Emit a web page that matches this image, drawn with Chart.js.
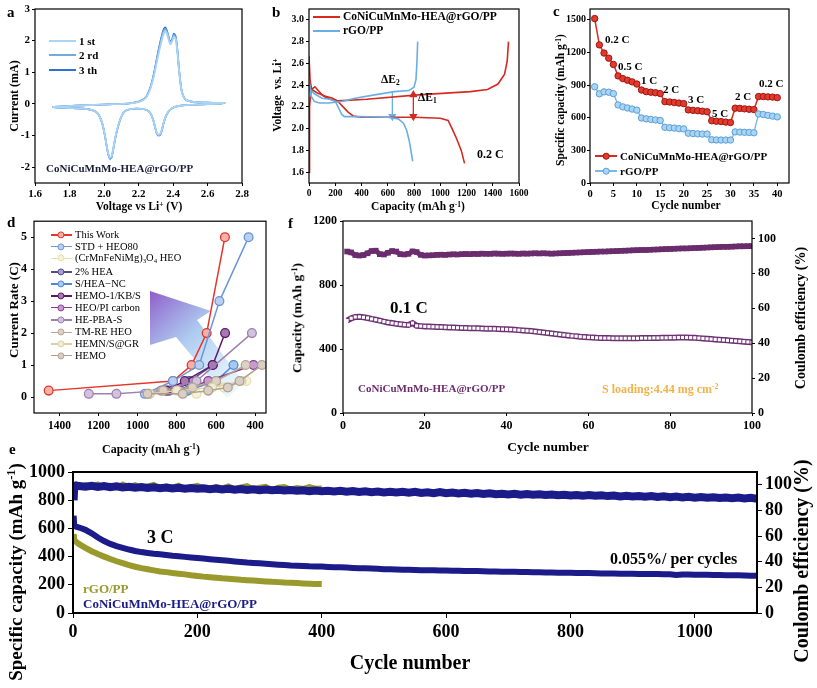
<!DOCTYPE html>
<html><head><meta charset="utf-8">
<script src="https://cdn.jsdelivr.net/npm/chart.js@4.4.1/dist/chart.umd.min.js"></script>
<style>
body{margin:0;background:#fff;width:817px;height:688px;position:relative;overflow:hidden;font-family:'Liberation Serif','Times New Roman',serif;font-weight:bold;color:#000}
canvas{position:absolute;display:block}
.t{position:absolute;white-space:nowrap;line-height:1;transform:translate(0,-50%)}
.c{transform:translate(-50%,-50%)}
.r{transform:translate(-50%,-50%) rotate(-90deg)}
sup{font-size:65%;vertical-align:0.5em;line-height:0}
sub{font-size:65%;vertical-align:-0.3em;line-height:0}
.sw{position:absolute;height:2px}
.dot{position:absolute;border-radius:50%;transform:translate(-50%,-50%)}
</style></head><body>
<svg id="arrow" width="817" height="688" style="position:absolute;left:0;top:0">
<defs><linearGradient id="ag" x1="150" y1="292" x2="238" y2="392" gradientUnits="userSpaceOnUse">
<stop offset="0" stop-color="#8a55c8" stop-opacity="0.95"/><stop offset="0.45" stop-color="#9fc3ee" stop-opacity="0.85"/><stop offset="1" stop-color="#dff2fb" stop-opacity="0.55"/></linearGradient></defs>
<polygon points="150,291 211,311 197,320 244,383 227,398 176,337 150,345" fill="url(#ag)"/>
</svg>
<canvas id="ca" width="265" height="215" style="left:0;top:0"></canvas>
<canvas id="cb" width="290" height="215" style="left:265px;top:0"></canvas>
<canvas id="cc" width="267" height="215" style="left:550px;top:0"></canvas>
<canvas id="cd" width="285" height="245" style="left:0;top:210px"></canvas>
<canvas id="cf" width="537" height="245" style="left:280px;top:210px"></canvas>
<canvas id="ce" width="817" height="248" style="left:0;top:440px"></canvas>
<script>
// ---------------- DATA ----------------
// Panel a: CV curves (voltage V, current mA), loop anodic then cathodic
const aVolt=[1.70,1.75,1.80,1.85,1.90,1.95,2.00,2.05,2.10,2.15,2.20,2.23,2.25,2.27,2.29,2.31,2.33,2.345,2.355,2.365,2.375,2.385,2.395,2.405,2.415,2.425,2.435,2.45,2.47,2.50,2.55,2.60,2.65,2.70,
 2.65,2.60,2.55,2.50,2.45,2.42,2.40,2.38,2.36,2.345,2.335,2.325,2.315,2.305,2.295,2.285,2.27,2.25,2.22,2.19,2.16,2.13,2.11,2.095,2.08,2.065,2.055,2.045,2.035,2.025,2.015,2.005,1.99,1.97,1.95,1.92,1.88,1.84,1.80,1.75,1.70];
const aCur1=[-0.10,-0.08,-0.06,-0.05,-0.04,-0.03,-0.02,-0.01,0.0,0.02,0.06,0.13,0.25,0.5,0.9,1.42,1.9,2.2,2.3,2.22,2.03,1.88,1.98,2.12,2.06,1.68,1.06,0.4,0.15,0.08,0.05,0.04,0.03,0.03,
 0.0,-0.01,-0.02,-0.03,-0.05,-0.08,-0.12,-0.19,-0.36,-0.6,-0.82,-0.95,-0.97,-0.9,-0.7,-0.49,-0.3,-0.2,-0.16,-0.15,-0.16,-0.2,-0.3,-0.47,-0.73,-1.07,-1.37,-1.64,-1.70,-1.57,-1.3,-0.98,-0.61,-0.35,-0.24,-0.18,-0.15,-0.14,-0.13,-0.12,-0.10];
const aCur2=[-0.10,-0.08,-0.06,-0.05,-0.04,-0.03,-0.02,-0.01,0.0,0.02,0.07,0.14,0.27,0.53,0.95,1.5,2.0,2.3,2.37,2.28,2.08,1.92,2.02,2.18,2.11,1.72,1.08,0.41,0.15,0.08,0.05,0.04,0.03,0.03,
 0.0,-0.01,-0.02,-0.03,-0.05,-0.08,-0.12,-0.2,-0.37,-0.61,-0.84,-0.97,-0.99,-0.91,-0.71,-0.5,-0.3,-0.2,-0.16,-0.15,-0.16,-0.2,-0.3,-0.48,-0.74,-1.09,-1.39,-1.67,-1.73,-1.59,-1.31,-0.99,-0.62,-0.35,-0.24,-0.18,-0.15,-0.14,-0.13,-0.12,-0.10];
const aCur3=[-0.10,-0.08,-0.06,-0.05,-0.04,-0.03,-0.02,-0.01,0.0,0.02,0.07,0.15,0.28,0.55,0.98,1.55,2.05,2.35,2.42,2.32,2.12,1.95,2.05,2.22,2.15,1.75,1.1,0.42,0.15,0.08,0.05,0.04,0.03,0.03,
 0.0,-0.01,-0.02,-0.03,-0.05,-0.08,-0.12,-0.2,-0.38,-0.62,-0.85,-0.98,-1.0,-0.92,-0.72,-0.5,-0.3,-0.2,-0.16,-0.15,-0.16,-0.2,-0.3,-0.48,-0.75,-1.1,-1.4,-1.68,-1.74,-1.6,-1.32,-1.0,-0.62,-0.35,-0.24,-0.18,-0.15,-0.14,-0.13,-0.12,-0.10];
const aXTicks=[1.6,1.8,2.0,2.2,2.4,2.6,2.8], aYTicks=[-2,-1,0,1,2,3];

// Panel b: galvanostatic profiles (capacity mAh/g, voltage V)
const bRedDisCap=[0,8,20,60,120,180,220,260,300,340,400,600,800,1000,1060,1090,1120,1160,1185];
const bRedDisV  =[2.67,2.45,2.36,2.33,2.30,2.28,2.25,2.20,2.15,2.115,2.105,2.105,2.105,2.095,2.075,2.0,1.92,1.8,1.68];
const bRedChCap=[0,4,15,30,45,70,110,160,220,440,830,1230,1360,1440,1490,1510,1520];
const bRedChV  =[1.6,2.2,2.34,2.37,2.385,2.35,2.30,2.27,2.255,2.27,2.31,2.34,2.36,2.41,2.5,2.62,2.8];
const bBlueDisCap=[0,10,40,100,160,200,225,250,270,400,600,680,720,745,765,790];
const bBlueDisV  =[2.45,2.36,2.32,2.28,2.27,2.25,2.19,2.13,2.11,2.11,2.105,2.09,2.05,1.98,1.88,1.7];
const bBlueChCap=[0,15,40,80,150,250,350,500,650,760,800,815,822,828];
const bBlueChV  =[2.4,2.3,2.25,2.235,2.235,2.25,2.28,2.31,2.34,2.35,2.38,2.45,2.6,2.8];
const bE1Cap=[795,795], bE1V=[2.112,2.31];
const bE2Cap=[635,635], bE2V=[2.34,2.112];
const bXTicks=[0,200,400,600,800,1000,1200,1400,1600], bYTicks=[1.6,1.8,2.0,2.2,2.4,2.6,2.8,3.0];

// Panel c: rate performance
const cCycle=[1,2,3,4,5,6,7,8,9,10,11,12,13,14,15,16,17,18,19,20,21,22,23,24,25,26,27,28,29,30,31,32,33,34,35,36,37,38,39,40];
const cHEA=[1512,1270,1195,1148,1090,985,960,945,930,910,855,840,835,830,822,748,745,740,735,730,672,668,665,660,655,572,568,565,560,556,688,686,682,678,675,795,795,792,790,785];
const cRGO=[885,820,838,835,822,718,700,690,680,670,598,590,585,580,575,512,508,505,500,498,458,455,452,450,450,398,396,395,395,395,470,468,466,465,462,635,630,622,615,608];
const cXTicks=[0,5,10,15,20,25,30,35,40], cYTicks=[0,300,600,900,1200,1500];

// Panel d: comparison (capacity mAh/g, current rate C)
const dNames=['This Work','STD + HEO80','(CrMnFeNiMg)<sub>3</sub>O<sub>4</sub> HEO','2% HEA',' S/HEA\u2212NC','HEMO-1/KB/S','HEO/PI carbon','HE-PBA-S','TM-RE HEO','HEMN/S@GR','HEMO'];
const dCap=[[1455,820,725,648,555],[964,820,686,583,434],[700,640,560,445],[840,735,617],[745,600,511],[855,760,617,554],[780,640,409],[1250,1109,880,700,417],[940,870,720,600,449],[940,800,620,470],[950,770,640,540,480,366]];
const dRate=[[0.2,0.5,1,2,5],[0.1,0.5,1,3,5],[0.1,0.2,0.3,0.5],[0.2,0.5,1],[0.2,0.5,1],[0.2,0.5,1,2],[0.2,0.5,1],[0.1,0.1,0.2,0.5,2],[0.1,0.2,0.3,0.5,1],[0.1,0.2,0.3,0.5],[0.1,0.1,0.2,0.3,0.5,1]];
const dXTicks=[1400,1200,1000,800,600,400], dYTicks=[0,1,2,3,4,5];

// Panel f: 0.1 C cycling
const fCycle=[1,2,3,4,5,6,7,8,9,10,11,12,13,14,15,16,17,18,19,20,21,22,23,24,25,26,27,28,29,30,31,32,33,34,35,36,37,38,39,40,41,42,43,44,45,46,47,48,49,50,51,52,53,54,55,56,57,58,59,60,61,62,63,64,65,66,67,68,69,70,71,72,73,74,75,76,77,78,79,80,81,82,83,84,85,86,87,88,89,90,91,92,93,94,95,96,97,98,99,100];
const fCap=[578,592,600,601,598,594,588,583,577,571,566,562,558,555,552,550,562,545,543,541,540,539,538,537,536,535,534,533,532,531,530,530,529,528,527,527,526,525,524,523,522,520,518,516,514,512,509,506,503,500,497,494,491,488,485,482,480,477,475,473,472,470,469,468,468,467,467,467,467,467,467,467,468,468,468,469,469,470,470,471,471,472,472,472,471,470,468,466,464,462,460,458,456,454,452,450,448,446,444,442];
const fCE=[92.5,92,90.5,90.2,90.5,91.5,92.8,93,91,90.8,91.8,92.8,92.5,91,90.8,91.2,92.6,92.2,90.6,90.2,90.3,90.4,90.6,90.7,90.6,90.8,90.9,90.8,91,91.1,91,91.2,91.1,91.3,91.2,91.2,91.4,91.3,91.2,91.3,91.4,91.3,91.2,91.4,91.3,91.4,91.5,91.4,91.5,91.4,91.3,91.4,91.5,91.6,91.7,91.8,91.9,92,92.1,92.2,92.3,92.4,92.5,92.5,92.6,92.7,92.8,92.9,93,93.1,93.2,93.3,93.4,93.4,93.5,93.6,93.7,93.8,93.9,94,94.1,94.2,94.3,94.3,94.4,94.5,94.6,94.7,94.8,94.9,95,95.1,95.2,95.2,95.3,95.4,95.5,95.5,95.6,95.6];
const fXTicks=[0,20,40,60,80,100], fYTicks=[0,400,800,1200], fY2Ticks=[0,20,40,60,80,100];

// Panel e: 3 C long cycling
const eNavyCycle=[1,2,5,10,20,30,40,50,60,70,80,90,100,110,120,130,140,150,160,170,180,190,200,210,220,230,240,250,260,270,280,290,300,310,320,330,340,350,360,370,380,390,400,410,420,430,440,450,460,470,480,490,500,510,520,530,540,550,560,570,580,590,600,610,620,630,640,650,660,670,680,690,700,710,720,730,740,750,760,770,780,790,800,810,820,830,840,850,860,870,880,890,900,910,920,930,940,950,960,970,980,990,1000,1010,1020,1030,1040,1050,1060,1070,1080,1090,1100];
const eNavyCap=[690,620,612,606,590,565,535,510,490,474,462,450,440,432,426,420,416,411,406,402,398,394,390,386,382,378,374,370,366,362,358,355,352,349,346,343,340,337,335,333,331,330,329,327,325,324,322,320,318,317,315,313,311,310,309,307,306,305,304,303,303,302,301,300,299,298,297,297,296,295,294,293,293,292,291,290,289,289,288,287,286,285,285,284,283,283,282,281,281,280,279,279,278,277,277,276,276,275,274,270,273,273,272,271,271,270,269,268,268,267,266,265,265];
const eNavyCE=[88,99,99.5,99,98.6,99.2,98.4,99,98.2,98.8,98,98.5,97.8,98.3,97.6,98.1,97.4,97.9,97.2,97.7,97,97.5,96.9,97.3,96.6,97.1,96.4,96.9,96.2,96.7,96,96.5,95.8,96.3,95.7,96.1,95.5,95.9,95.3,95.8,95.1,95.6,95,95.4,94.8,95.3,94.6,95.1,94.4,94.9,94.3,94.8,94.1,94.6,94,94.5,93.8,94.6,93.7,94.2,93.5,94.4,93.4,93.9,93.2,93.7,93,93.6,92.9,93.4,92.7,93.1,92.5,93,92.3,92.8,92.2,92.6,92,92.5,91.8,92.3,91.7,92.1,91.5,92,91.4,91.8,91.2,91.7,91,91.5,90.9,91.3,90.7,91.2,90.5,91,90.4,90.8,90.2,90.7,90,90.5,89.9,90.3,89.7,90.1,89.5,90,89.3,89.8,89.2];
const eOliveCycle=[1,2,5,10,20,30,40,50,60,70,80,90,100,110,120,130,140,150,160,170,180,190,200,210,220,230,240,250,260,270,280,290,300,310,320,330,340,350,360,370,380,390,400];
const eOliveCap=[560,520,505,488,462,438,418,400,383,367,353,340,328,318,310,302,295,290,284,279,274,268,263,258,254,250,246,243,240,236,233,230,227,224,221,219,216,214,212,210,208,206,205];
const eOliveCE=[96,98.5,100,97.5,100.5,99,101,98,100,97.5,101,99,100.5,98,99.5,100.8,97.8,99.5,98.5,100.2,97.5,99,100,98,96.8,99.2,98,99.6,97.4,98.8,99.8,97.2,98.5,99.3,96.5,98.6,99,97,98.2,97.5,99,97.8,98];
const eXTicks=[0,200,400,600,800,1000], eYTicks=[0,200,400,600,800,1000], eY2Ticks=[0,20,40,60,80,100];

// ---------------- HELPERS ----------------
const FF="'Liberation Serif','Times New Roman',serif";
Chart.defaults.font.family=FF; Chart.defaults.font.weight='bold'; Chart.defaults.color='#000';
Chart.register({id:'box',defaults:{w:1.2},afterDatasetsDraw(chart,args,opts){const a=chart.chartArea,c=chart.ctx;c.save();c.strokeStyle='#000';c.lineWidth=opts.w;c.strokeRect(a.left,a.top,a.right-a.left,a.bottom-a.top);c.restore();}});
function sc(o){return{type:'linear',position:o.pos,min:o.min,max:o.max,reverse:!!o.rev,
 grid:{display:true,drawOnChartArea:false,drawTicks:true,tickLength:o.tl||3,color:'#000',lineWidth:1},
 border:{display:false},
 ticks:{font:{family:FF,size:o.fs,weight:'bold'},color:'#000',padding:(o.pad==null?2:o.pad),autoSkip:false,maxRotation:0,minRotation:0,
  callback:v=>o.dec!=null?Number(v).toFixed(o.dec):String(v)},
 afterBuildTicks:s=>{s.ticks=o.ticks.map(v=>({value:v}));},
 afterFit:s=>{if(o.pos==='bottom')s.height=o.size;else s.width=o.size;}};}
function xy(xs,ys){return xs.map((x,i)=>({x:x,y:ys[i]}));}
function ln(xs,ys,col,w,ex){return Object.assign({data:xy(xs,ys),showLine:true,borderColor:col,backgroundColor:col,borderWidth:w,pointRadius:0,fill:false},ex||{});}
function mk(id,datasets,scales,pad,boxw){return new Chart(document.getElementById(id),{type:'scatter',data:{datasets:datasets},
 options:{responsive:false,animation:false,layout:{padding:Object.assign({left:0,right:0,top:0,bottom:0},pad)},scales:scales,
 plugins:{legend:{display:false},tooltip:{enabled:false},box:{w:boxw||1.2}}}});}
function T(html,x,y,fs,cls,st){const d=document.createElement('div');d.className='t'+(cls?' '+cls:'');d.innerHTML=html;d.style.left=x+'px';d.style.top=y+'px';d.style.fontSize=fs+'px';if(st)Object.assign(d.style,st);document.body.appendChild(d);return d;}
function SW(x,y,w,col,h){const d=document.createElement('div');d.className='sw';d.style.left=x+'px';d.style.top=(y-(h||2)/2)+'px';d.style.width=w+'px';d.style.height=(h||2)+'px';d.style.background=col;document.body.appendChild(d);}
function DOT(x,y,r,fill,bord){const d=document.createElement('div');d.className='dot';d.style.left=x+'px';d.style.top=y+'px';d.style.width=(2*r)+'px';d.style.height=(2*r)+'px';d.style.background=fill;d.style.border='1px solid '+bord;d.style.boxSizing='border-box';document.body.appendChild(d);}

// ---------------- PANEL a ----------------
mk('ca',[ln(aVolt,aCur1,'#aad4f3',1.8,{tension:0.2}),ln(aVolt,aCur2,'#72abe2',1.8,{tension:0.2}),ln(aVolt,aCur3,'#2f6fd6',1.6,{tension:0.2})],
 {x:sc({pos:'bottom',min:1.6,max:2.8,ticks:aXTicks,fs:11,size:32,dec:1}),y:sc({pos:'left',min:-2.5,max:3,ticks:aYTicks,fs:11,size:35})},{top:9,right:23});
// ---------------- PANEL b ----------------
mk('cb',[ln(bBlueDisCap,bBlueDisV,'#6aaee6',1.6),ln(bBlueChCap,bBlueChV,'#6aaee6',1.6),ln(bRedDisCap,bRedDisV,'#d42a22',1.6),ln(bRedChCap,bRedChV,'#d42a22',1.6),
 ln(bE1Cap,bE1V,'#d42a22',1.3,{pointStyle:'triangle',pointRadius:[3.5,3.5],pointRotation:[180,0]}),
 ln(bE2Cap,bE2V,'#6aaee6',1.3,{pointStyle:'triangle',pointRadius:[0,3.5],pointRotation:[0,180]})],
 {x:sc({pos:'bottom',min:0,max:1600,ticks:bXTicks,fs:9.5,size:32}),y:sc({pos:'left',min:1.5,max:3.1,ticks:bYTicks,fs:10,size:44,dec:1})},{top:9,right:36});
// ---------------- PANEL c ----------------
mk('cc',[ln(cCycle,cRGO,'#7ab8ea',1.4,{pointRadius:3.2,pointBackgroundColor:'#a9d4f3',pointBorderColor:'#5b9ed8',pointBorderWidth:1}),
 ln(cCycle,cHEA,'#d32c20',1.5,{pointRadius:3.2,pointBackgroundColor:'#e33a2e',pointBorderColor:'#9e1510',pointBorderWidth:1})],
 {x:sc({pos:'bottom',min:0,max:42.5,ticks:cXTicks,fs:10.5,size:32}),y:sc({pos:'left',min:0,max:1600,ticks:cYTicks,fs:10,size:40,pad:1})},{top:9,right:28});
// ---------------- PANEL d ----------------
const dCol=['#e5342a','#6b97d8','#e6dfae','#56498c','#4b88d8','#5a1b66','#8a3a94','#9e80b0','#b8a593','#d8d2a6','#b19f8e'];
const dFill=['#f6b0aa','#b9cff0','#f6f2d8','#a79fcc','#a8c8f0','#a878b4','#c69ccd','#d3c2dc','#ddd1c6','#efecd6','#d9cfc6'];
const dSets=[];
for(let i=dCap.length-1;i>=0;i--){dSets.push(ln(dCap[i],dRate[i],dCol[i],1.5,{pointRadius:4.4,pointBackgroundColor:dFill[i],pointBorderColor:dCol[i],pointBorderWidth:1.3}));}
mk('cd',dSets,{x:sc({pos:'bottom',min:345,max:1530,rev:true,ticks:dXTicks,fs:11.5,size:42,pad:3}),y:sc({pos:'left',min:-0.5,max:5.5,ticks:dYTicks,fs:12,size:34,pad:4})},{top:9,right:19});
// ---------------- PANEL f ----------------
mk('cf',[ln(fCycle,fCE,'#6b2c6e',5,{yAxisID:'y2',pointStyle:'rect',pointRadius:4,pointBackgroundColor:'#6b2c6e',pointBorderWidth:0}),
 ln(fCycle,fCap,'#6e2f72',6,{pointStyle:'rect',pointRadius:2.2,pointBackgroundColor:'#ffffff',pointBorderWidth:0})],
 {x:sc({pos:'bottom',min:0,max:100,ticks:fXTicks,fs:12,size:42,pad:3}),y:sc({pos:'left',min:0,max:1200,ticks:fYTicks,fs:12,size:63,pad:3}),
  y2:sc({pos:'right',min:0,max:110,ticks:fY2Ticks,fs:12,size:65,pad:3})},{top:11,right:0});
// ---------------- PANEL e ----------------
mk('ce',[ln(eNavyCycle,eNavyCE,'#1b1b8a',8,{yAxisID:'y2'}),ln(eOliveCycle,eOliveCE,'#9a9a2c',4,{yAxisID:'y2'}),
 ln(eOliveCycle,eOliveCap,'#9a9a2c',6),ln(eNavyCycle,eNavyCap,'#1b1b8a',6)],
 {x:sc({pos:'bottom',min:0,max:1100,ticks:eXTicks,fs:18,size:75,tl:5,pad:4}),y:sc({pos:'left',min:0,max:1000,ticks:eYTicks,fs:18,size:73,tl:5,pad:3}),
  y2:sc({pos:'right',min:0,max:110,ticks:eY2Ticks,fs:18,size:60,tl:5,pad:3})},{top:32,right:0},2);

// ---------------- TEXT ----------------
// panel letters
T('a',7,12,15); T('b',272,12,15); T('c',553,11,15); T('d',7,222,15); T('f',288,223,15); T('e',9,449,15);
// a
T('Current (mA)',14,96,12,'r'); T('Voltage vs Li<sup>+</sup> (V)',139,207,11.5,'c');
SW(49,41,27,'#aad4f3'); SW(49,55,27,'#72abe2'); SW(49,70,27,'#2f6fd6');
T('1 st',79,41,11); T('2 rd',79,55,11); T('3 th',79,70,11);
T('CoNiCuMnMo-HEA@rGO/PP',46,168,11,null,{color:'#1b1b3a'});
// b
T('Voltage &nbsp;vs. Li<sup>+</sup>',278,95,11.5,'r'); T('Capacity (mAh g<sup>-1</sup>)',418,207,11.5,'c');
SW(313,17,27,'#d42a22'); SW(313,31,27,'#6aaee6');
T('CoNiCuMnMo-HEA@rGO/PP',343,17,11.5); T('rGO/PP',343,31,11.5);
T('&Delta;E<sub>2</sub>',381,80,11.5); T('&Delta;E<sub>1</sub>',418,98,11.5); T('0.2 C',477,154,12);
// c
T('Specific capacity (mAh g<sup>-1</sup>)',561,100,11.5,'r'); T('Cycle number',686,206,11.5,'c');
SW(595,156,22,'#d32c20'); DOT(606,156,3.3,'#e33a2e','#9e1510'); T('CoNiCuMnMo-HEA@rGO/PP',620,156,11);
SW(595,171,22,'#7ab8ea'); DOT(606,171,3.3,'#a9d4f3','#5b9ed8'); T('rGO/PP',620,171,11);
T('0.2 C',605,39,11); T('0.5 C',618,66,11); T('1 C',641,80,11); T('2 C',663,89,11); T('3 C',688,99,11); T('5 C',712,113,11); T('2 C',735,96,11); T('0.2 C',759,83,11);
// d
T('Current Rate (C)',13,310,13,'r'); T('Capacity (mAh g<sup>-1</sup>)',151,449,12,'c');
const dRowY=[235,246.7,258.3,272,284,296,307.7,320,332.3,344,355.7];
for(let i=0;i<dNames.length;i++){SW(51,dRowY[i],21,dCol[i],1.6);DOT(61,dRowY[i],3.6,dFill[i],dCol[i]);T(dNames[i],75,dRowY[i],10.5,null,{fontWeight:'normal'});}
// f
T('Capacity (mAh g<sup>-1</sup>)',297,318,13.5,'r'); T('Coulomb efficiency (%)',801,318,14,'r'); T('Cycle number',548,447,13.5,'c');
T('0.1 C',390,307,17); T('CoNiCuMnMo-HEA@rGO/PP',358,388,11,null,{color:'#6b2c6e'});
T('S loading:4.44 mg cm<sup>-2</sup>',602,389,12,null,{color:'#f0b24a'});
// e
T('Specific capacity (mAh g<sup>-1</sup>)',15,572,19,'r'); T('Coulomb efficiency (%)',801,561,20,'r'); T('Cycle number',410,662,20,'c');
T('3 C',147,537,18); T('rGO/PP',83,588,13,null,{color:'#9a9a2c'}); T('CoNiCuMnMo-HEA@rGO/PP',83,603,13,null,{color:'#1b1b8a'});
T('0.055%/ per cycles',610,559,16);
</script>
</body></html>
